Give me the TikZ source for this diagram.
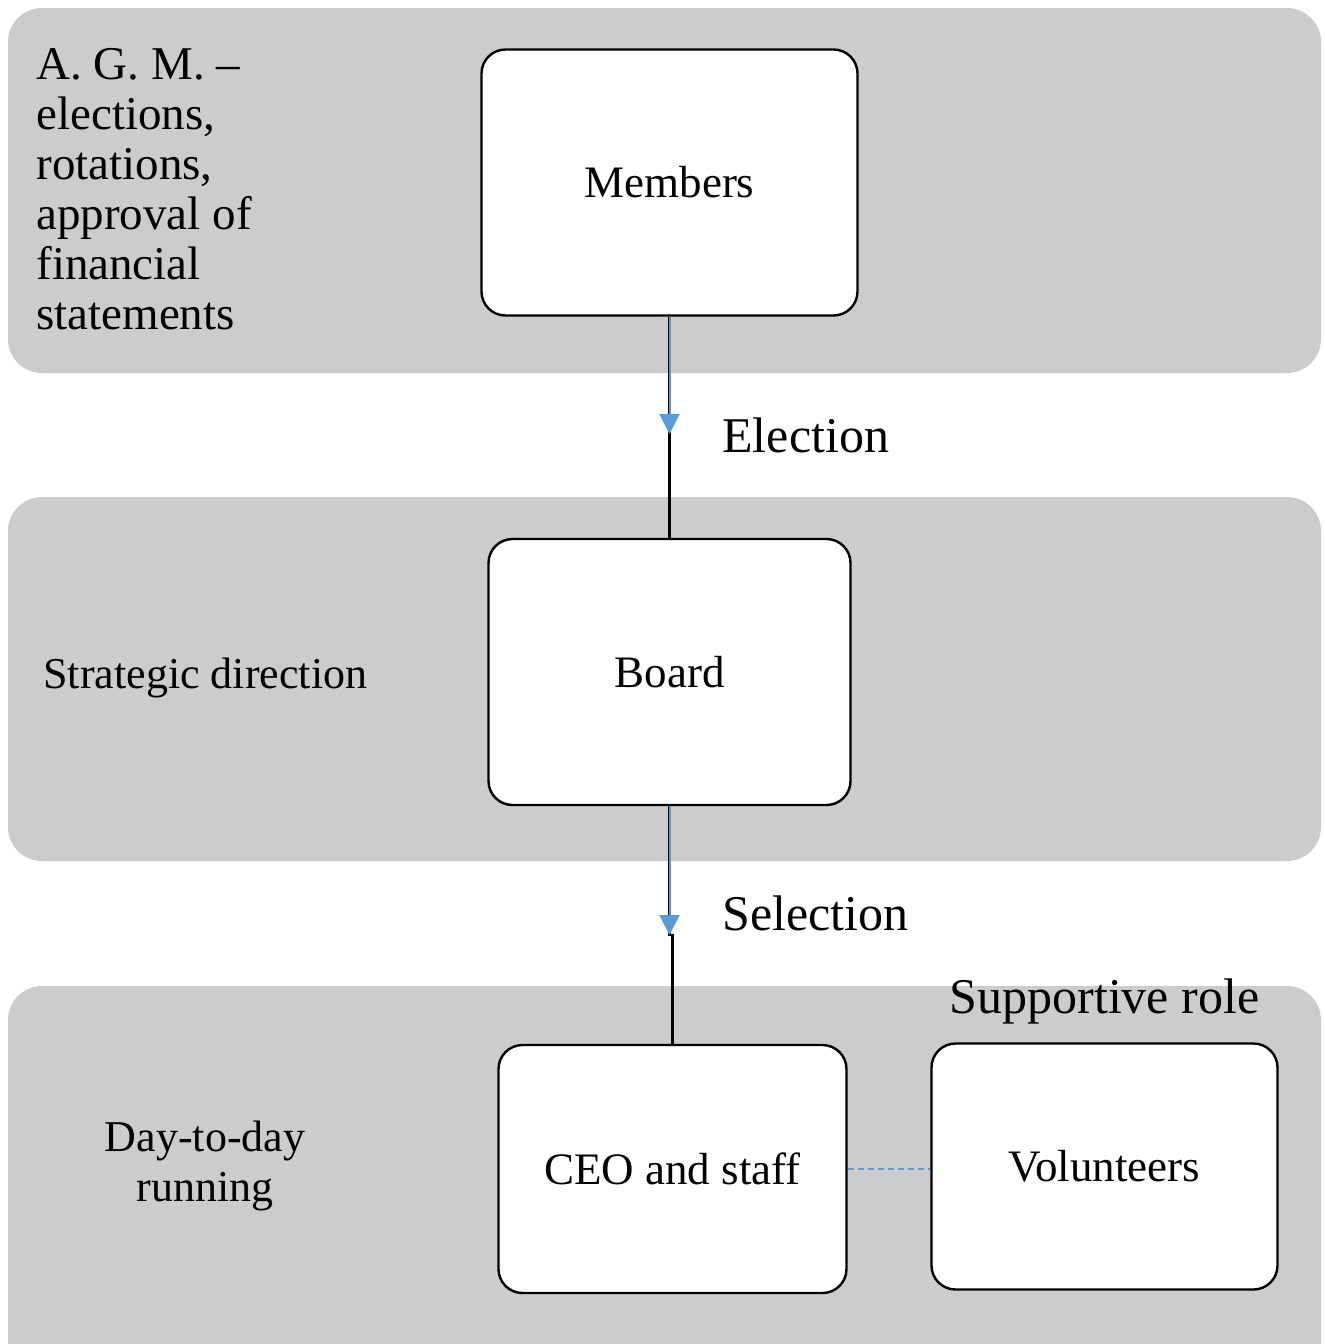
\documentclass[tikz,border=0pt]{standalone}
\usepackage{fontspec}
\setmainfont{Liberation Serif}
\usetikzlibrary{positioning,arrows.meta}
\definecolor{lanegray}{HTML}{CCCCCC}
\definecolor{linkblue}{HTML}{5B9BD5}

\begin{document}
\begin{tikzpicture}[x=0.5pt,y=-0.5pt,
  lane/.style={fill=lanegray,rounded corners=17pt},
  unit/.style={draw,line width=1.2pt,rounded corners=12pt,fill=white,
    minimum width=#1,font=\fontsize{22.5}{25}\selectfont},
  unit/.default=185pt,
  cue/.style={font=\fontsize{25}{25}\selectfont,inner sep=0pt},
  side/.style={font=\fontsize{22}{25}\selectfont,inner sep=0pt,align=left},
  link/.style={linkblue,line width=1pt,-{Triangle[length=10pt,width=10pt]}}]
  \useasboundingbox (0,0) rectangle (1324,1344);
  % Fasce
  \fill[lane] (8,8) rectangle (1321,373);
  \fill[lane] (8,497) rectangle (1321,861);
  \fill[lane] (8,986) rectangle (1321,1400);

  % Riquadri
  \node[unit=188pt,minimum height=133pt] (members) at (669.5,182.5) {Members};
  \node[unit=181pt,minimum height=133pt] (board) at (669.5,672) {Board};
  \node[unit=174pt,minimum height=124pt] (ceo) at (672.5,1169) {CEO and staff};
  \node[unit=173pt,minimum height=123pt] (vol) at (1104.5,1166.5) {Volunteers};

  % Testi a sinistra
  \node[side,anchor=north west,font=\fontsize{23.5}{25}\selectfont] (agm) at (36,48)
    {A. G. M. --\\elections,\\rotations,\\approval of\\financial\\statements};
  \node[side,anchor=west] (strat) at (43,678) {Strategic direction};
  \node[side,align=center] (daily) at (205,1166) {Day-to-day\\running};

  % Collegamenti
  \coordinate (e) at (669.5,434);
  \coordinate (s) at (669.5,935);
  \draw[line width=1.2pt] (members.south) -- (board.north);
  \draw[link] (members.south) -- (e);
  \draw[line width=1.2pt] (board.south) -- (s) -- (s -| ceo.north) -- (ceo.north);
  \draw[link] (board.south) -- (s);
  \draw[linkblue,dash pattern=on 3pt off 2pt,line width=0.8pt] (ceo.east) -- (vol.west |- ceo.east);

  \node[cue,anchor=west] (elec) at (722,435) {Election};
  \node[cue,anchor=west] (sel) at (722,913) {Selection};
  \node[cue,above=9pt of vol.north] (supp) {Supportive role};
\end{tikzpicture}
\end{document}
